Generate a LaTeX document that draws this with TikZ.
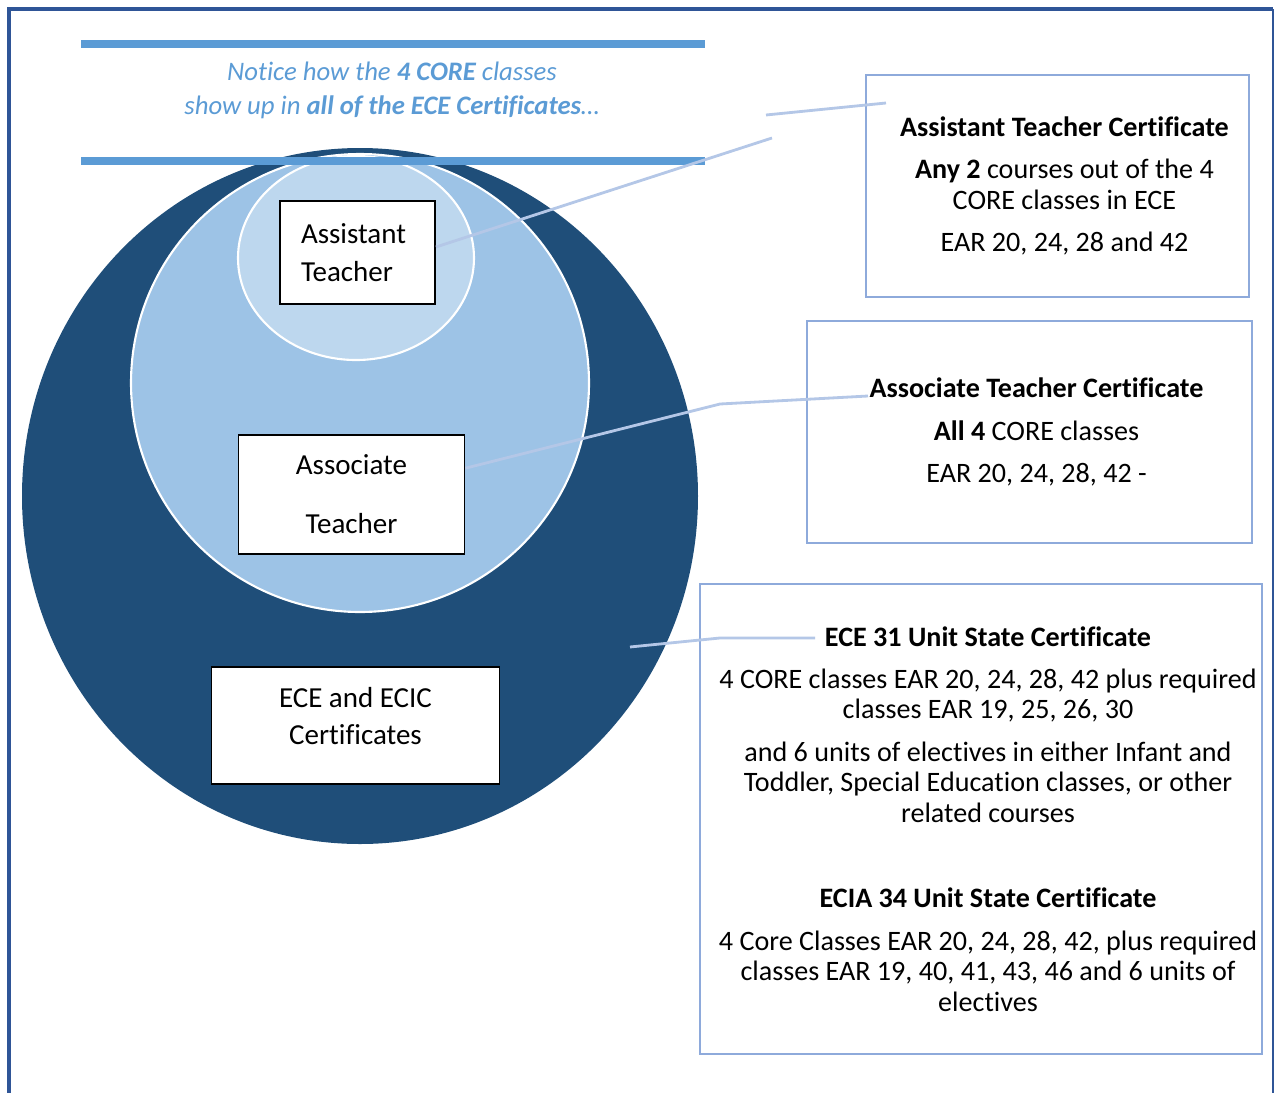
\documentclass[tikz,border=0pt]{standalone}
\usepackage{fontspec}
\setmainfont{Carlito}[Ligatures=NoCommon]
\usepackage{xcolor}
\usepackage{tikz}
\usetikzlibrary{positioning}
\definecolor{pageblue}{HTML}{2F5597}
\definecolor{ringdark}{HTML}{1F4E79}
\definecolor{ringmid}{HTML}{9DC3E6}
\definecolor{ringlight}{HTML}{BDD7EE}
\definecolor{accentblue}{HTML}{5B9BD5}
\definecolor{boxedge}{HTML}{8EAADB}
\definecolor{leaderblue}{HTML}{B4C7E7}
\tikzset{
  ringlabel/.style={
    draw=black,
    line width=1pt,
    fill=white,
    align=center,
    inner sep=0pt,
    font=\fontsize{16.5}{21.5}\selectfont
  },
  certbox/.style={
    draw=boxedge,
    line width=1.3pt,
    fill=white,
    inner sep=0pt
  },
  certtext/.style={
    align=center,
    inner sep=0pt,
    xshift=0.14cm,
    font=\fontsize{16}{17.5}\selectfont
  },
  noticetext/.style={
    align=center,
    text=accentblue,
    font=\fontsize{15.2}{19.3}\selectfont\itshape
  },
  banner/.style={
    draw=accentblue,
    line width=4.5pt
  },
  leader/.style={
    draw=leaderblue,
    line width=1.6pt
  },
  ringedge/.style={
    draw=white,
    line width=1.2pt
  }
}

\begin{document}
\begin{tikzpicture}[x=0.02cm, y=-0.02cm]
    \useasboundingbox (0,0) rectangle (1276,1093);
    \draw[pageblue, line width=2.4pt] (9,1100) |- (1273,9);
    \draw[pageblue, line width=1pt] (1273,9) -- (1273,1100);

    \fill[ringdark] (360,496) ellipse [x radius=338, y radius=348];
    \filldraw[ringedge, fill=ringmid] (360,383) circle [radius=229];
    \filldraw[ringedge, fill=ringlight] (356,258) ellipse [x radius=118, y radius=102];

    \draw[banner] (81,44) -- (705,44);
    \draw[banner] (81,161) -- (705,161);
    \node[noticetext] (notice) at (392,90) {
        Notice how the \textbf{4 CORE} classes\\
        show up in \textbf{all of the ECE Certificates}…
    };

    \node[ringlabel, align=left, text width=2.26cm, inner xsep=0.42cm,
          minimum width=3.1cm, minimum height=2.06cm] (asstlbl) at (357.5,252.5) {
        Assistant\\
        Teacher
    };
    \node[ringlabel, minimum width=4.52cm, minimum height=2.38cm] (assoclbl) at (351.5,494.5) {
        Associate\\[12pt]
        Teacher
    };
    \node[ringlabel, text depth=11pt, minimum width=5.76cm, minimum height=2.34cm] (ecelbl) at (355.5,725.5) {
        ECE and ECIC\\
        Certificates
    };

    \node[certbox, minimum width=7.66cm, minimum height=4.44cm] (asstcert) at (1057.5,186) {};
    \node[certtext] (assttext) at (asstcert) {
        \textbf{Assistant Teacher Certificate}\\[6.5pt]
        \textbf{Any 2} courses out of the 4\\
        CORE classes in ECE\\[6.5pt]
        EAR 20, 24, 28 and 42
    };
    \node[certbox, minimum width=8.9cm, minimum height=4.44cm] (assoccert) at (1029.5,432) {};
    \node[certtext] (assoctext) at (assoccert) {
        \textbf{Associate Teacher Certificate}\\[6.5pt]
        \textbf{All 4} CORE classes\\[6.5pt]
        EAR 20, 24, 28, 42 -
    };
    \node[certbox, minimum width=11.24cm, minimum height=9.4cm] (statecert) at (981,819) {};
    \node[certtext] (statetext) at (statecert) {
        \textbf{ECE 31 Unit State Certificate}\\[6.5pt]
        4 CORE classes EAR 20, 24, 28, 42 plus required\\
        classes EAR 19, 25, 26, 30\\[6.5pt]
        and 6 units of electives in either Infant and\\
        Toddler, Special Education classes, or other\\
        related courses\\[31pt]
        \textbf{ECIA 34 Unit State Certificate}\\[6.5pt]
        4 Core Classes EAR 20, 24, 28, 42, plus required\\
        classes EAR 19, 40, 41, 43, 46 and 6 units of\\
        electives
    };

    \coordinate (asstend) at (772,138);
    \coordinate (stubstart) at (766,115);
    \coordinate (stubend) at (886,103);
    \coordinate (assocbend) at (720,404);
    \coordinate (assocend) at (868,396);
    \coordinate (ecefoot) at (630,647);
    \coordinate (ecebend) at (720,638);
    \coordinate (eceend) at (815,638);

    \draw[leader] (asstlbl.4) -- (asstend);
    \draw[leader] (stubstart) -- (stubend);
    \draw[leader] (assoclbl.13) -- (assocbend) -- (assocend);
    \draw[leader] (ecefoot) -- (ecebend) -- (eceend);
\end{tikzpicture}
\end{document}
